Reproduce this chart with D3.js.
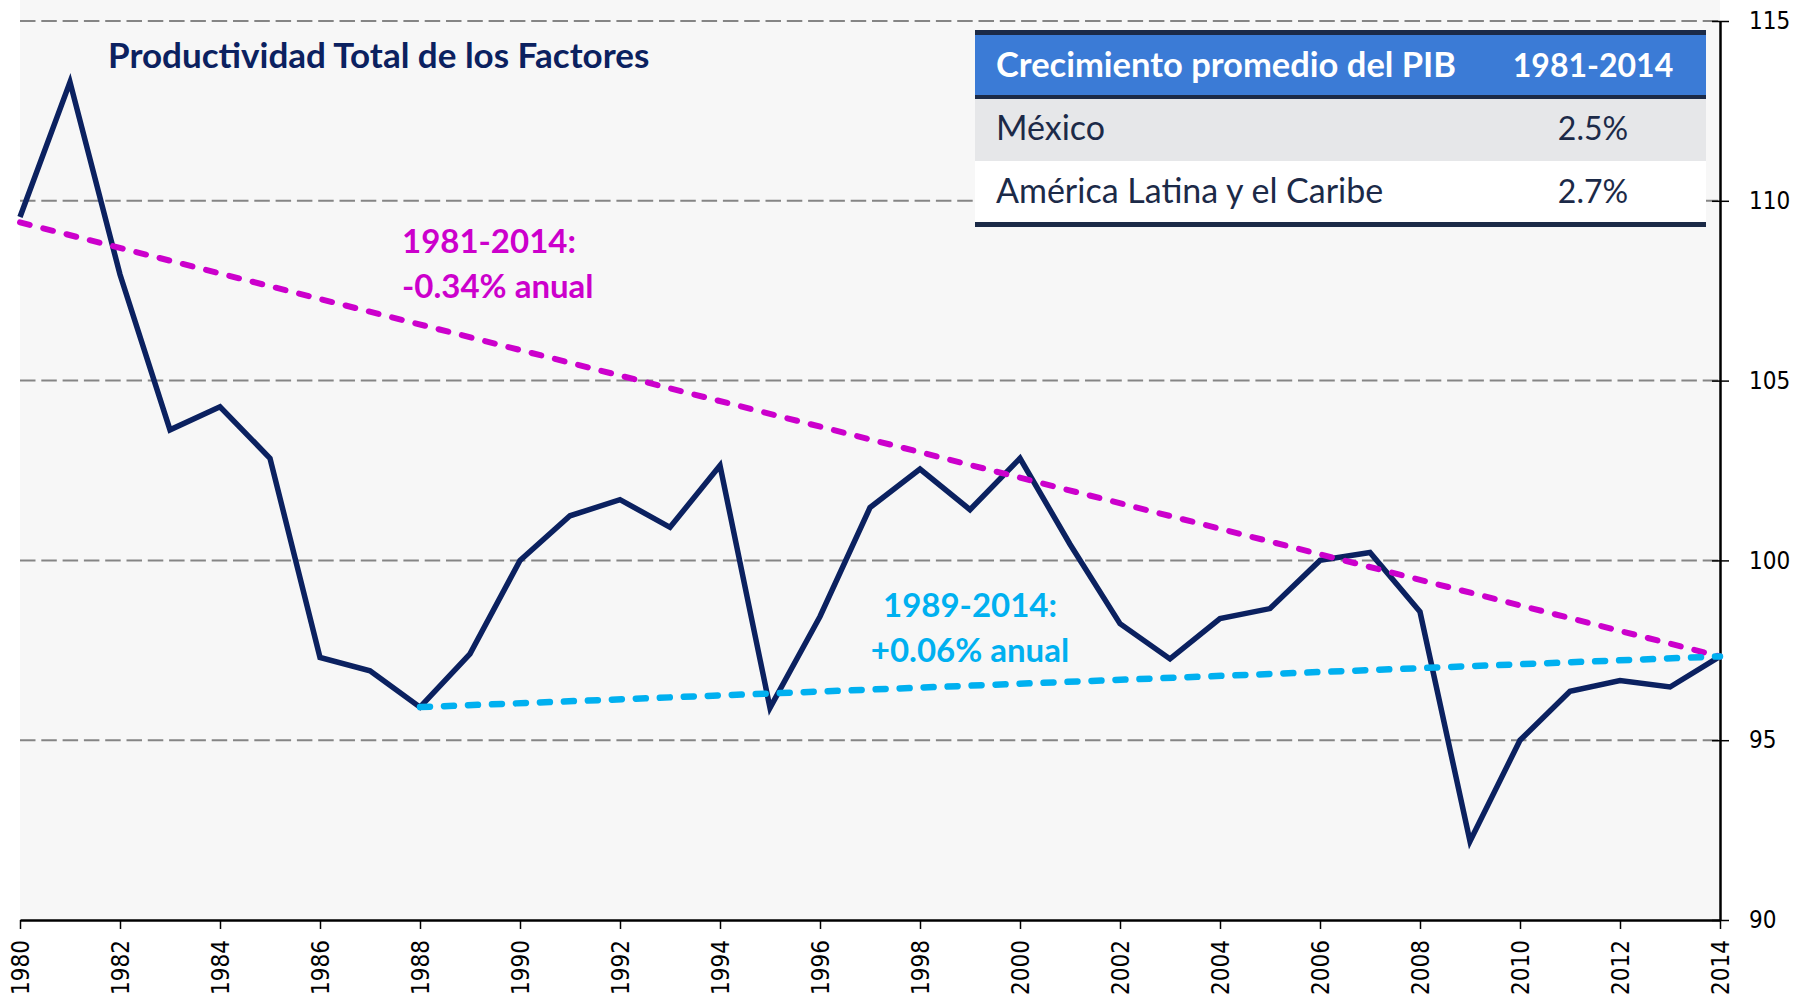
<!DOCTYPE html>
<html>
<head>
<meta charset="utf-8">
<script src="https://cdn.jsdelivr.net/npm/d3@7"></script>
<style>
  body { margin: 0; background: #fff; }
  .axis path, .axis line { stroke: #000; }
  .axis text { font-family: 'DejaVu Sans Condensed', 'DejaVu Sans', sans-serif; font-size: 24px; fill: #000; }
</style>
</head>
<body>
<div id="chart"></div>
<script>
width = 1797;
height = 1001;

// datos
var years = [1980, 1981, 1982, 1983, 1984, 1985, 1986, 1987, 1988, 1989,
             1990, 1991, 1992, 1993, 1994, 1995, 1996, 1997, 1998, 1999,
             2000, 2001, 2002, 2003, 2004, 2005, 2006, 2007, 2008, 2009,
             2010, 2011, 2012, 2013, 2014];
var ptf = [109.55, 113.3, 107.95, 103.63, 104.27, 102.84, 97.3, 96.93, 95.92, 97.4,
           100.0, 101.24, 101.69, 100.92, 102.64, 95.9, 98.44, 101.47, 102.54, 101.41,
           102.84, 100.45, 98.24, 97.26, 98.38, 98.66, 100.0, 100.22, 98.57, 92.19,
           95.0, 96.36, 96.66, 96.48, 97.33];

var trendLongYears = [1980, 2014];
var trendLong = [109.4, 97.33];
var trendShortYears = [1988, 2014];
var trendShort = [95.92, 97.33];

var xTicks = [1980, 1982, 1984, 1986, 1988, 1990, 1992, 1994, 1996, 1998,
              2000, 2002, 2004, 2006, 2008, 2010, 2012, 2014];
var yTicks = [90, 95, 100, 105, 110, 115];
var yGrid = [95, 100, 105, 110, 115];

var title = "Productividad Total de los Factores";
var labelLong = ["1981-2014:", "-0.34% anual"];
var labelShort = ["1989-2014:", "+0.06% anual"];

var tableHeader = ["Crecimiento promedio del PIB", "1981-2014"];
var tableRows = [["México", "2.5%"], ["América Latina y el Caribe", "2.7%"]];

const svg = d3.select("#chart")
              .append("svg")
              .attr("width", width)
              .attr("height", height);

var x = d3.scaleLinear().domain([1980, 2014]).range([20, 1720]);
var y = d3.scaleLinear().domain([90, 115]).range([920, 21]);

// fondo del area de grafico
svg.append("rect")
    .attr("x", x(1980)).attr("y", 0)
    .attr("width", x(2014) - x(1980)).attr("height", y(90))
    .attr("fill", "#f7f7f7");

// lineas de cuadricula
svg.append("g")
  .selectAll("line")
  .data(yGrid)
  .enter().append("line")
    .attr("x1", x(1980)).attr("x2", x(2014))
    .attr("y1", function(d) { return y(d); })
    .attr("y2", function(d) { return y(d); })
    .attr("stroke", "#858585")
    .attr("stroke-width", 2)
    .attr("stroke-dasharray", "15.5,5.8");

// eje x
var xAxis = svg.append("g")
    .attr("class", "axis")
    .attr("transform", "translate(0," + y(90) + ")")
    .call(d3.axisBottom(x).tickValues(xTicks).tickFormat(d3.format("d")).tickSize(9).tickSizeOuter(0));
xAxis.select(".domain").attr("stroke-width", 2.5);
xAxis.selectAll(".tick line").attr("stroke-width", 1.5);
xAxis.selectAll("text")
    .attr("transform", "rotate(-90)")
    .attr("x", -20)
    .attr("y", 0)
    .attr("dy", "0.36em")
    .style("text-anchor", "end");

// eje y (derecha)
var yAxis = svg.append("g")
    .attr("class", "axis")
    .attr("transform", "translate(" + x(2014) + ",0)")
    .call(d3.axisRight(y).tickValues(yTicks).tickSize(9).tickSizeOuter(0).tickPadding(20));
yAxis.select(".domain").attr("stroke-width", 2.5);
yAxis.selectAll(".tick line").attr("x1", -8).attr("stroke-width", 1.5);

// serie principal
var line = d3.line()
    .x(function(d, i) { return x(years[i]); })
    .y(function(d) { return y(d); });

svg.append("path")
    .datum(ptf)
    .attr("d", line)
    .attr("fill", "none")
    .attr("stroke", "#0b2160")
    .attr("stroke-width", 5.5);

// tendencias
var trendLine = function(yrs) {
  return d3.line()
    .x(function(d, i) { return x(yrs[i]); })
    .y(function(d) { return y(d); });
};

svg.append("path")
    .datum(trendLong)
    .attr("d", trendLine(trendLongYears))
    .attr("fill", "none")
    .attr("stroke", "#cc00cc")
    .attr("stroke-width", 6)
    .attr("stroke-linecap", "round")
    .attr("stroke-dasharray", "10,14");

svg.append("path")
    .datum(trendShort)
    .attr("d", trendLine(trendShortYears))
    .attr("fill", "none")
    .attr("stroke", "#00b0f0")
    .attr("stroke-width", 6.5)
    .attr("stroke-linecap", "round")
    .attr("stroke-dasharray", "10,14");

// titulo
svg.append("text")
    .attr("x", 108).attr("y", 68)
    .attr("font-family", "Lato, sans-serif")
    .attr("font-weight", "bold")
    .attr("font-size", 35)
    .attr("fill", "#0b2160")
    .text(title);

// etiquetas de tendencia
svg.append("g")
  .selectAll("text")
  .data(labelLong)
  .enter().append("text")
    .attr("x", 402)
    .attr("y", function(d, i) { return 253 + i * 45; })
    .attr("font-family", "Lato, sans-serif")
    .attr("font-weight", "bold")
    .attr("font-size", 33)
    .attr("fill", "#cc00cc")
    .text(function(d) { return d; });

svg.append("g")
  .selectAll("text")
  .data(labelShort)
  .enter().append("text")
    .attr("x", 970)
    .attr("y", function(d, i) { return 617 + i * 45; })
    .attr("text-anchor", "middle")
    .attr("font-family", "Lato, sans-serif")
    .attr("font-weight", "bold")
    .attr("font-size", 33)
    .attr("fill", "#00b0f0")
    .text(function(d) { return d; });

// tabla
var tbl = svg.append("g");
var tx0 = 975, tx1 = 1706, colText = 996, colVal = 1593;

tbl.append("rect").attr("x", tx0).attr("y", 35).attr("width", tx1 - tx0).attr("height", 60).attr("fill", "#3b7bd6");
tbl.selectAll("rect.row")
  .data(tableRows)
  .enter().append("rect")
    .attr("class", "row")
    .attr("x", tx0)
    .attr("y", function(d, i) { return 99 + i * 62; })
    .attr("width", tx1 - tx0)
    .attr("height", 62)
    .attr("fill", function(d, i) { return i === 0 ? "#e6e7e9" : "#ffffff"; });

[32.5, 97, 224.5].forEach(function(yy, i) {
  tbl.append("line")
    .attr("x1", tx0).attr("x2", tx1)
    .attr("y1", yy).attr("y2", yy)
    .attr("stroke", "#1b2a47")
    .attr("stroke-width", i === 1 ? 4 : 5);
});

tbl.append("text")
    .attr("x", colText).attr("y", 77)
    .attr("font-family", "Lato, sans-serif")
    .attr("font-weight", "bold")
    .attr("font-size", 34.5)
    .attr("fill", "#ffffff")
    .text(tableHeader[0]);
tbl.append("text")
    .attr("x", colVal).attr("y", 77)
    .attr("text-anchor", "middle")
    .attr("font-family", "Lato, sans-serif")
    .attr("font-weight", "bold")
    .attr("font-size", 32)
    .attr("fill", "#ffffff")
    .text(tableHeader[1]);

tableRows.forEach(function(r, i) {
  tbl.append("text")
      .attr("x", colText).attr("y", 140 + i * 63)
      .attr("font-family", "Lato, sans-serif")
      .attr("font-size", 34)
      .attr("fill", "#1c2a48")
      .text(r[0]);
  tbl.append("text")
      .attr("x", colVal).attr("y", 140 + i * 63)
      .attr("text-anchor", "middle")
      .attr("font-family", "Lato, sans-serif")
      .attr("font-size", 32)
      .attr("fill", "#1c2a48")
      .text(r[1]);
});
</script>
</body>
</html>
